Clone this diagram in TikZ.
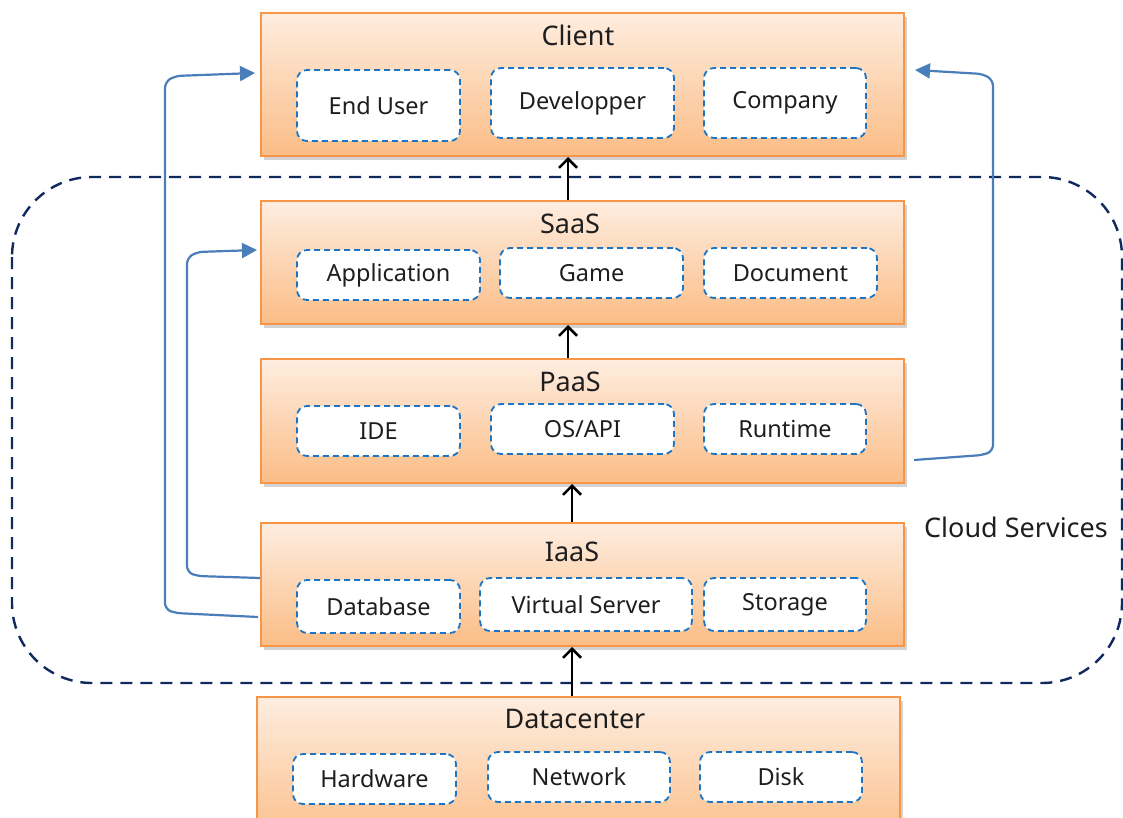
\documentclass[tikz,border=0pt]{standalone}
\usepackage{fontspec}
\setmainfont{Noto Sans}
\usetikzlibrary{arrows.meta,shadows,calc}
\definecolor{layerborder}{HTML}{F79646}
\definecolor{layertop}{HTML}{FEEDE0}
\definecolor{layerbottom}{HTML}{FBBD86}
\definecolor{itemblue}{HTML}{1B75C4}
\definecolor{linkblue}{HTML}{4A7EBB}
\definecolor{cloudnavy}{HTML}{10295E}
\definecolor{txt}{HTML}{1E1E1E}
\begin{document}
\begin{tikzpicture}[x=1pt,y=1pt,
  layer/.style={draw=layerborder, line width=2pt, top color=layertop, bottom color=layerbottom,
    rectangle, inner sep=0pt, anchor=north west,
    drop shadow={opacity=0.35, shadow xshift=3pt, shadow yshift=-4pt}},
  title/.style={text=txt, font=\fontsize{27}{31}\selectfont},
  item/.style={draw=itemblue, fill=white, line width=1.8pt, dash pattern=on 6pt off 4pt,
    rounded corners=10pt, inner sep=0pt, text=txt, font=\fontsize{23.5}{27}\selectfont},
  up/.style={draw=black, line width=2.5pt, -{Straight Barb[length=9pt,width=18pt]}},
  link/.style={draw=linkblue, line width=2.2pt, rounded corners=6pt},
  linkarrow/.style={link, -{Triangle[length=15pt,width=15pt]}},
  cloud/.style={draw=cloudnavy, line width=2.4pt, dash pattern=on 12pt off 8pt, rounded corners=80pt}
]
\useasboundingbox (0,0) rectangle (1123,-818);

% cloud boundary
\draw[cloud] (12,-177) rectangle (1122,-683);
\node[title, anchor=center] (cloudlbl) at (1016,-527) {Cloud Services};

% layers
\node[layer, minimum width=643pt, minimum height=143pt] (client) at (260,-12) {};
\node[layer, minimum width=643pt, minimum height=123pt] (saas) at (260,-200) {};
\node[layer, minimum width=643pt, minimum height=124pt] (paas) at (260,-358) {};
\node[layer, minimum width=643pt, minimum height=123pt] (iaas) at (260,-522) {};
\node[layer, minimum width=643pt, minimum height=150pt] (dc) at (256,-696) {};

% titles
\node[title] (clientT) at (578,-35) {Client};
\node[title] (saasT) at (570,-224) {SaaS};
\node[title] (paasT) at (570,-382) {PaaS};
\node[title] (iaasT) at (572,-552) {IaaS};
\node[title] (dcT) at (575,-719) {Datacenter};

% client items
\node[item, minimum width=163pt, minimum height=71pt] (eu) at (378.5,-105.5) {End User};
\node[item, minimum width=183pt, minimum height=70pt] (dev) at (582.5,-103) {Developper};
\node[item, minimum width=162pt, minimum height=70pt] (comp) at (785,-103) {Company};
% SaaS items
\node[item, minimum width=183pt, minimum height=50pt] (app) at (388.5,-275) {Application};
\node[item, minimum width=183pt, minimum height=50pt] (game) at (591.5,-273) {Game};
\node[item, minimum width=173pt, minimum height=50pt] (doc) at (790.5,-273) {Document};
% PaaS items
\node[item, minimum width=163pt, minimum height=50pt] (ide) at (378.5,-431) {IDE};
\node[item, minimum width=183pt, minimum height=50pt] (os) at (582.5,-429) {OS/API};
\node[item, minimum width=162pt, minimum height=50pt] (rt) at (785,-429) {Runtime};
% IaaS items
\node[item, minimum width=163pt, minimum height=53pt] (db) at (378.5,-606.5) {Database};
\node[item, minimum width=212pt, minimum height=53pt] (vs) at (586,-604.5) {Virtual Server};
\node[item, minimum width=162pt, minimum height=53pt] (st) at (785,-604.5) {Storage};
% datacenter items
\node[item, minimum width=163pt, minimum height=50pt] (hw) at (374.5,-779) {Hardware};
\node[item, minimum width=182pt, minimum height=50pt] (net) at (579,-777) {Network};
\node[item, minimum width=162pt, minimum height=50pt] (disk) at (781,-777) {Disk};

% vertical flow between layers
\coordinate (colA) at (568,0);
\coordinate (colB) at (572,0);
\draw[up] (saas.north -| colA) -- (client.south -| colA);
\draw[up] (paas.north -| colA) -- (saas.south -| colA);
\draw[up] (iaas.north -| colB) -- (paas.south -| colB);
\draw[up] (dc.north -| colB) -- (iaas.south -| colB);

% side links
\draw[linkarrow] ($(iaas.south west)+(-2,30)$) -- (175,-613) -- (165,-609) -- (165,-82) -- (175,-76) -- ($(client.north west)+(-5,-61)$);
\draw[linkarrow] ($(iaas.north west)+(0,-56)$) -- (197,-576) -- (187,-572) -- (187,-258) -- (197,-252) -- ($(saas.north west)+(-3,-50)$);
\draw[linkarrow] ($(paas.south east)+(9,24)$) -- (983,-455) -- (993,-451) -- (993,-80) -- (983,-74) -- ($(client.north east)+(10,-58)$);
\end{tikzpicture}
\end{document}
